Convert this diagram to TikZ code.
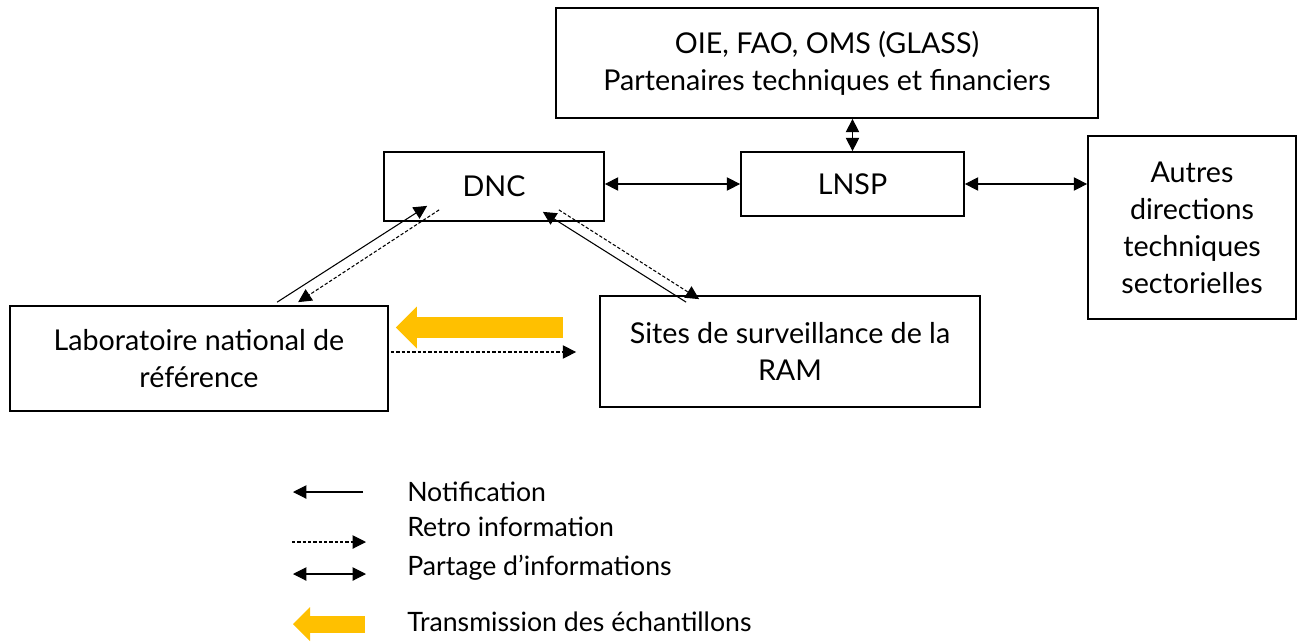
\documentclass[tikz,border=0pt]{standalone}
\usepackage{fontspec}
\setmainfont{Lato}
\definecolor{amber}{HTML}{FFC000}
\usetikzlibrary{arrows.meta,positioning,calc}

\begin{document}
\begin{tikzpicture}[x=0.75pt,y=-0.75pt,
			box/.style={draw, rectangle, line width=1.3pt, align=center, inner sep=0pt, font=\fontsize{21.5}{27.7}\selectfont},
			legend/.style={anchor=west, inner sep=0pt, font=\fontsize{20}{22}\selectfont},
			notif/.style={line width=0.8pt, -{Triangle[length=10pt, width=10pt]}},
			retro/.style={line width=0.8pt, dash pattern=on 2.5pt off 1.5pt, -{Triangle[length=10pt, width=10pt]}},
			share/.style={line width=0.8pt, {Triangle[length=10pt, width=10pt]}-{Triangle[length=10pt, width=10pt]}},
			sample/.style={draw=amber, line width=#1, -{Triangle[length=0pt 1, width=0pt 2, line width=0pt, fill=amber]}},
			]
			\useasboundingbox (0,0) rectangle (1307,643);
			
			% boxes
			\node[box, minimum width=406.5pt, minimum height=82.5pt] (partners) at (827,63) {OIE, FAO, OMS (GLASS)\\Partenaires techniques et financiers};
			\node[box, minimum width=165pt, minimum height=51.75pt] (dnc) at (494,186.5) {DNC};
			\node[box, minimum width=167.25pt, minimum height=48pt] (lnsp) at (852.5,184) {LNSP};
			\node[box, minimum width=156pt, minimum height=137.25pt] (others) at (1192,227.5) {Autres\\directions\\techniques\\sectorielles};
			\node[box, minimum width=283.5pt, minimum height=78.75pt] (lab) at (199,358.5) {Laboratoire national de\\référence};
			\node[box, minimum width=285pt, minimum height=83.25pt] (sites) at (790,351.5) {Sites de surveillance de la\\RAM};
			
			% free ends
			\coordinate (labN) at ($(lab.north west)+(268,-3)$);
			\coordinate (dncN) at ($(dnc.south west)+(44,-16)$);
			\coordinate (dncR) at ($(dnc.south west)+(56,-12)$);
			\coordinate (labR) at ($(lab.north west)+(289,-3)$);
			\coordinate (sitesN) at ($(sites.north west)+(87,7)$);
			\coordinate (dncN2) at ($(dnc.south east)+(-62,-10)$);
			\coordinate (dncR2) at ($(dnc.south east)+(-46,-12)$);
			\coordinate (sitesR) at ($(sites.north west)+(100,4)$);
			\coordinate (labOut) at ($(lab.east)+(2,-6.5)$);
			\coordinate (sitesIn) at ($(sites.west)+(-23,0.5)$);
			\coordinate (sampleA) at ($(sites.west)+(-36,-24)$);
			\coordinate (sampleB) at ($(lab.east)+(7,-31)$);
			
			% Arrow
			\draw [share] (dnc.east |- lnsp.west) -- (lnsp.west);
			\draw [share] (lnsp.east) -- (others.west |- lnsp.east);
			\draw [share] (lnsp.north |- partners.south) -- (lnsp.north);
			
			\draw [notif] (labN) -- (dncN);
			\draw [retro] (dncR) -- (labR);
			\draw [notif] (sitesN) -- (dncN2);
			\draw [retro] (dncR2) -- (sitesR);
			\draw [retro] (labOut) -- (sitesIn);
			\draw [sample=15.75pt] (sampleA) -- (sampleB);
			
			% legend
			\node[legend] (legNotif) at (407,492) {Notification};
			\node[legend] (legRetro) at (407,527) {Retro information};
			\node[legend] (legShare) at (407,568) {Partage d’informations};
			\node[legend] (legSample) at (407,622) {Transmission des échantillons};
			
			\coordinate (k1a) at ($(legNotif.west)+(-44,0)$);
			\coordinate (k1b) at ($(legNotif.west)+(-114,0)$);
			\coordinate (k2a) at ($(legRetro.west)+(-115,15)$);
			\coordinate (k2b) at ($(legRetro.west)+(-41,15)$);
			\coordinate (k3a) at ($(legShare.west)+(-114,6)$);
			\coordinate (k3b) at ($(legShare.west)+(-41,6)$);
			\coordinate (k4a) at ($(legSample.west)+(-42,2)$);
			\coordinate (k4b) at ($(legSample.west)+(-114,2)$);
			
			\draw [notif] (k1a) -- (k1b);
			\draw [retro] (k2a) -- (k2b);
			\draw [share] (k3a) -- (k3b);
			\draw [sample=12.75pt] (k4a) -- (k4b);
			
		\end{tikzpicture}
\end{document}
